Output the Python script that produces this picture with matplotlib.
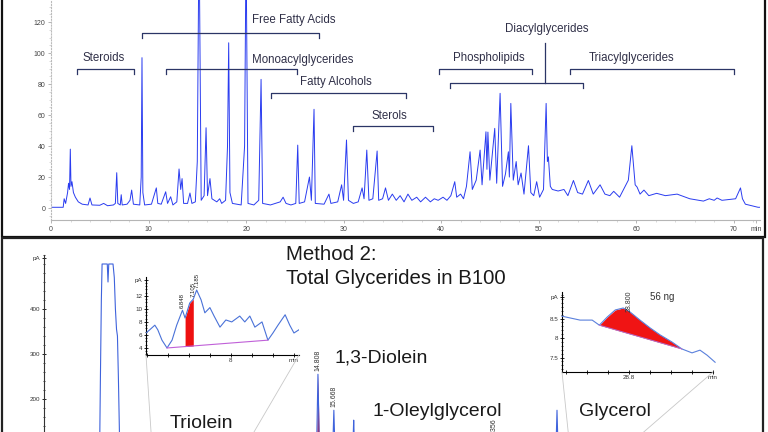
import numpy as np
import matplotlib
matplotlib.use("Agg")
import matplotlib.pyplot as plt
from matplotlib.patches import Rectangle, ConnectionPatch
from matplotlib.ticker import MultipleLocator

plt.rcParams['font.family'] = ['Liberation Sans', 'DejaVu Sans']

W, H = 768, 432

# ---- Method 1 chromatogram (top panel): retention time (min) / signal
top_t = [0.0, 1.25, 1.35, 1.5, 1.7, 1.8, 1.9, 1.98, 2.05, 2.15, 2.3, 2.5, 2.8, 3.2, 3.8, 4.0, 4.2, 5.0, 5.4, 5.8,
         6.4, 6.6, 6.74, 6.85, 7.1, 7.2, 7.3, 7.8, 8.1, 8.27, 8.45, 9.1, 9.25, 9.33, 9.42, 9.6, 10.3, 10.8, 10.95, 11.3,
         11.76, 11.95, 12.27, 12.5, 12.9, 13.13, 13.3, 13.44, 13.6, 14.0, 14.25, 14.45, 14.8, 15.0, 15.18, 15.4, 15.7, 15.9, 16.05, 16.3,
         16.5, 17.0, 17.3, 17.5, 17.9, 18.1, 18.22, 18.35, 18.6, 19.5, 19.85, 20.0, 20.2, 20.8, 21.3, 21.54, 21.7, 22.5, 23.0, 23.5,
         23.8, 24.1, 24.6, 25.1, 25.3, 25.45, 26.0, 26.5, 26.7, 26.97, 27.1, 28.0, 28.5, 28.7, 29.4, 29.8, 30.0, 30.3, 30.5, 31.0,
         31.5, 31.9, 32.1, 32.38, 32.6, 33.0, 33.44, 33.6, 34.0, 34.3, 34.6, 35.0, 35.4, 35.8, 36.2, 36.6, 37.0, 37.5, 37.9, 38.4,
         38.9, 39.3, 39.7, 40.2, 40.6, 41.0, 41.4, 41.6, 42.0, 42.3, 42.6, 42.97, 43.2, 43.6, 44.0, 44.2, 44.6, 44.7, 44.8, 45.0,
         45.5, 45.7, 46.05, 46.3, 46.6, 46.9, 47.0, 47.15, 47.4, 47.7, 47.9, 48.2, 48.5, 48.96, 49.2, 49.5, 49.8, 50.1, 50.5, 50.77,
         50.9, 51.0, 51.2, 51.4, 52.0, 52.6, 53.0, 53.57, 54.0, 54.5, 55.1, 55.6, 56.3, 56.8, 57.3, 57.7, 58.3, 59.2, 59.56, 59.9,
         60.1, 60.4, 60.8, 61.3, 62.1, 63.0, 64.2, 65.5, 66.9, 67.5, 68.0, 68.3, 68.8, 69.5, 70.2, 70.7, 70.9, 71.2, 72.5, 72.9]
top_v = [0.5, 0.5, 6, 3, 10, 16, 12, 38, 14, 17, 10, 7, 4, 2.5, 2, 6.5, 2, 1.8, 3, 1.5,
         2, 3, 22.8, 3, 2, 8.6, 2, 2.5, 5, 11.6, 2.5, 2, 20, 97, 10, 2, 2.5, 13, 3, 2.5,
         10.5, 3, 7.3, 2, 4, 25.2, 12, 19, 3, 3, 9.7, 3, 4, 30, 180, 5, 8, 51.8, 8, 19,
         6, 4, 6, 3, 5, 40, 106.6, 10, 3, 2, 40, 170, 3, 2, 5, 83, 3, 2, 3, 4,
         7, 3, 2, 3, 40.6, 3, 4, 20, 5, 63.7, 3, 2.5, 9, 3, 4, 15, 5, 43.9, 5, 3,
         4, 13, 6, 37.4, 5, 6, 36.8, 5, 6, 13, 5, 9, 5, 8, 4, 9, 5, 7, 4, 7,
         4, 6, 5, 7, 5, 8, 17, 7, 9, 6, 14, 36.3, 12, 18, 37.4, 15, 49.2, 25, 49, 18,
         51.4, 16, 74, 14, 22, 36.3, 20, 67.5, 18, 30, 15, 22.6, 9, 40.2, 10, 8, 17, 7, 12, 67.5,
         30, 33, 14, 12, 11, 12, 8, 17.8, 10, 9, 17.8, 9, 15, 9, 8, 10.8, 7, 18, 40.2, 15,
         13.5, 9, 11.6, 8, 9.5, 8, 9, 6, 4.5, 6, 5, 6.5, 5, 5.5, 6, 13, 6, 2.5, 0.5, 0.5]

# compound classes: bracket start/end (min) and bracket level
group_names = ["Steroids", "Free Fatty Acids", "Monoacylglycerides", "Fatty Alcohols",
               "Sterols", "Phospholipids", "Diacylglycerides", "Triacylglycerides"]
group_start = [2.7, 9.3, 11.8, 22.6, 31.0, 39.8, 40.9, 53.2]
group_end = [8.5, 27.5, 25.2, 36.4, 39.2, 49.3, 54.5, 70.0]
group_level = [89.7, 113, 89.7, 74, 53, 89.7, 80.6, 89.7]
label_x = [5.4, 24.9, 25.85, 29.2, 34.7, 44.9, 50.8, 59.5]
label_y = [96.8, 121.3, 95.5, 81, 59.7, 96.5, 115.6, 97]

# ---- Method 2 chromatogram (bottom panel)
bot_t = [0.0, 2.9, 3.0, 3.05, 3.1, 3.14, 3.42, 3.46, 3.50, 3.73, 3.80, 3.86, 3.92, 3.97, 4.02, 4.08, 4.2, 4.5,
         6.0, 6.48, 6.848, 7.185, 8.88, 9.6, 12.0, 14.70, 14.808, 14.92, 15.55, 15.668, 15.78, 16.63, 16.74, 16.85,
         20.0, 24.24, 24.356, 24.47, 27.62, 27.73, 27.84, 28.8, 33.0, 38.9]
bot_v = [8, 10, 60, 250, 420, 500, 500, 460, 500, 500, 470, 400, 355, 340, 250, 120, 40, 18,
         7, 4, 10, 13, 5, 7, 8, 10, 255, 12, 10, 175, 12, 10, 153, 12,
         10, 12, 100, 12, 10, 175, 10, 8.8, 8, 8]
bot_peak_t = [14.808, 15.668, 24.356]
bot_peak_v = [255, 175, 100]

# inset 1: 1,3-diolein region
ins1_t = [5.98, 6.07, 6.19, 6.26, 6.36, 6.48, 6.60, 6.71, 6.848, 6.91, 7.02, 7.105, 7.185, 7.29, 7.38, 7.50,
          7.60, 7.74, 7.88, 8.02, 8.21, 8.33, 8.45, 8.57, 8.74, 8.88, 9.00, 9.12, 9.29, 9.40, 9.50, 9.62]
ins1_v = [6.3, 6.8, 7.5, 6.8, 5.2, 4.0, 5.2, 7.5, 9.8, 8.6, 10.9, 11.5, 12.9, 11.4, 9.4, 10.2,
          8.9, 7.2, 8.3, 8.0, 8.9, 8.0, 8.9, 7.2, 8.0, 5.2, 6.3, 7.5, 9.1, 7.5, 6.3, 6.8]
ins1_base_t = [6.48, 8.88]
ins1_base_v = [4.0, 5.2]
ins1_fill = (6.91, 7.105)
ins1_labels = [(6.848, 9.8, "6.848"), (7.105, 11.5, "7.105"), (7.185, 12.9, "7.185")]

# inset 2: glycerol peak
ins2_t = [28.640, 28.683, 28.712, 28.729, 28.748, 28.767, 28.786, 28.802, 28.826, 28.850, 28.874,
          28.902, 28.926, 28.950, 28.969, 28.986, 29.005]
ins2_v = [8.56, 8.46, 8.46, 8.33, 8.54, 8.72, 8.77, 8.67, 8.46, 8.26, 8.08,
          7.90, 7.72, 7.62, 7.69, 7.56, 7.38]
ins2_base_t = [28.729, 28.926]
ins2_base_v = [8.33, 7.72]


def box(x0, y0, x1, y1):
    return [x0 / W, 1 - y1 / H, (x1 - x0) / W, (y1 - y0) / H]


fig = plt.figure(figsize=(W / 100, H / 100), dpi=100)

# panel frames
fig.add_artist(Rectangle((2 / W, 1 - 237 / H), 763 / W, 245 / H, transform=fig.transFigure,
                         fill=False, lw=1.6, ec='#111111'))
fig.add_artist(Rectangle((2 / W, -0.05), 761 / W, 1 - 238 / H + 0.05, transform=fig.transFigure,
                         fill=False, lw=1.6, ec='#222222'))

# ---------------- top panel ----------------
ax1 = fig.add_axes(box(51, 0, 760, 220))
ax1.set_facecolor('none')
ax1.plot(top_t, top_v, color='#2a3cf0', lw=0.7)
ax1.set_xlim(0, 72.7)
ax1.set_ylim(-7.7, 134.2)
for s in ['top', 'right']:
    ax1.spines[s].set_visible(False)
ax1.spines['left'].set_color('#bbbbbb')
ax1.spines['left'].set_linestyle(':')
ax1.spines['bottom'].set_color('#b5b5b5')
ax1.set_yticks(range(0, 121, 20))
ax1.set_xticks(list(range(0, 71, 10)) + [72.3])
ax1.set_xticklabels([str(v) for v in range(0, 71, 10)] + ['min'])
ax1.xaxis.set_minor_locator(MultipleLocator(2))
ax1.yaxis.set_minor_locator(MultipleLocator(5))
ax1.tick_params(labelsize=5, colors='#999999', labelcolor='#444444', length=2, width=0.5, pad=2)
ax1.tick_params(which='minor', length=1.2, width=0.4, colors='#bbbbbb')

for i, name in enumerate(group_names):
    s, e, lv = group_start[i], group_end[i], group_level[i]
    ax1.plot([s, s, e, e], [lv - 3, lv, lv, lv - 3], color='#2b3566', lw=0.9)
    ax1.text(label_x[i], label_y[i], name, ha='center', va='center', fontsize=8.3, color='#303048')
# stem of the diacylglyceride bracket
ax1.plot([50.7, 50.7], [group_level[6], 106.5], color='#2b3566', lw=0.9)

# ---------------- bottom panel ----------------
ax2 = fig.add_axes(box(44, 255, 760, 498))
ax2.set_facecolor('none')
ax2.plot(bot_t, bot_v, color='#3f63dc', lw=0.8, zorder=3)
pk = slice(25, 28)
ax2.fill_between(bot_t[pk], 10, bot_v[pk], color='#e01020', lw=0, zorder=2)
ax2.set_xlim(0, 716 / 18.5)
ax2.set_ylim(-20, 520)
for s in ['top', 'right', 'bottom']:
    ax2.spines[s].set_visible(False)
ax2.spines['left'].set_color('#333333')
ax2.spines['left'].set_linewidth(0.8)
ax2.set_xticks([])
ax2.set_yticks([200, 300, 400, 513])
ax2.set_yticklabels(['200', '300', '400', 'pA'])
ax2.yaxis.set_minor_locator(MultipleLocator(20))
ax2.tick_params(axis='y', labelsize=4.5, labelcolor='#333333', direction='inout', length=3, width=0.6, pad=1)
ax2.tick_params(axis='y', which='minor', direction='inout', length=1.5, width=0.5)
for t, v in zip(bot_peak_t, bot_peak_v):
    ax2.text(t, v + 8, f"{t:.3f}", rotation=90, ha='center', va='bottom', fontsize=5, color='#333333')

# inset 1
ax3 = fig.add_axes(box(146, 277, 299, 355))
ax3.set_facecolor('none')
ax3.plot(ins1_t, ins1_v, color='#4a72d8', lw=0.8, zorder=3)
ax3.plot(ins1_base_t, ins1_base_v, color='#c060d8', lw=0.8, zorder=3)
sel = [i for i, t in enumerate(ins1_t) if ins1_fill[0] <= t <= ins1_fill[1]]
ft = [ins1_t[i] for i in sel]
ax3.fill_between(ft, np.interp(ft, ins1_base_t, ins1_base_v), [ins1_v[i] for i in sel],
                 color='#ee1010', lw=0, zorder=2)
for t, v, lab in ins1_labels:
    ax3.text(t, v + 0.3, lab, rotation=90, ha='center', va='bottom', fontsize=4.3, color='#222222',
             clip_on=False)
ax3.set_xlim(5.98, 9.62)
ax3.set_ylim(2.92, 14.9)
ax3.set_xticks([6, 6.5, 7, 7.5, 8, 8.5, 9, 9.5])
ax3.set_xticklabels(['', '', '', '', '8', '', '', 'min'])
ax3.set_yticks([4, 6, 8, 10, 12, 14.5])
ax3.set_yticklabels(['4', '6', '8', '10', '12', 'pA'])
ax3.yaxis.set_minor_locator(MultipleLocator(0.5))

# inset 2
ax4 = fig.add_axes(box(562, 292, 713, 372))
ax4.set_facecolor('none')
ax4.plot(ins2_t, ins2_v, color='#5a80dc', lw=0.8, zorder=3, clip_on=False)
ax4.plot(ins2_base_t, ins2_base_v, color='#b070d0', lw=0.7, zorder=3)
sel = [i for i, t in enumerate(ins2_t) if ins2_base_t[0] <= t <= ins2_base_t[1]]
ft = [ins2_t[i] for i in sel]
ax4.fill_between(ft, np.interp(ft, ins2_base_t, ins2_base_v), [ins2_v[i] for i in sel],
                 color='#f01414', lw=0, zorder=2)
ax4.text(28.8, 8.66, "28.800", rotation=90, ha='center', va='bottom', fontsize=5, color='#333333')
ax4.text(28.879, 9.05, "56 ng", ha='center', va='center', fontsize=7, color='#333333')
ax4.set_xlim(28.64, 29.0)
ax4.set_ylim(7.13, 9.18)
ax4.set_xticks([28.65, 28.7, 28.75, 28.8, 28.85, 28.9, 28.95, 29.0])
ax4.set_xticklabels(['', '', '', '28.8', '', '', '', 'min'])
ax4.set_yticks([7.5, 8, 8.5, 9.05])
ax4.set_yticklabels(['7.5', '8', '8.5', 'pA'])
ax4.yaxis.set_minor_locator(MultipleLocator(0.1))

for a in (ax3, ax4):
    for s in ['top', 'right']:
        a.spines[s].set_visible(False)
    for s in ['left', 'bottom']:
        a.spines[s].set_linewidth(0.8)
    a.tick_params(labelsize=4.5, labelcolor='#333333', direction='inout', length=3, width=0.6, pad=1)
    a.tick_params(axis='y', which='minor', direction='inout', length=1.5, width=0.5)

# connector lines from the insets to the zoomed regions
for a, xl in ((ax3, ax3.get_xlim()), (ax4, ax4.get_xlim())):
    for corner, xv in ((0, xl[0]), (1, xl[1])):
        con = ConnectionPatch(xyA=(corner, 0), coordsA=a.transAxes, xyB=(xv, 5), coordsB=ax2.transData,
                              color='#c8c8c8', lw=0.6)
        fig.add_artist(con)

# text in bottom panel
def ftext(px, py, s, size):
    fig.text(px / W, 1 - py / H, s, ha='left', va='center', fontsize=size, color='#1a1a1a')


ftext(286, 255, "Method 2:", 14.7)
ftext(286, 279, "Total Glycerides in B100", 14.7)
ftext(335, 358, "1,3-Diolein", 14)
ftext(373, 412, "1-Oleylglycerol", 14)
ftext(170, 423, "Triolein", 14)
ftext(579, 412, "Glycerol", 14)

fig.savefig("out.png", dpi=100)
